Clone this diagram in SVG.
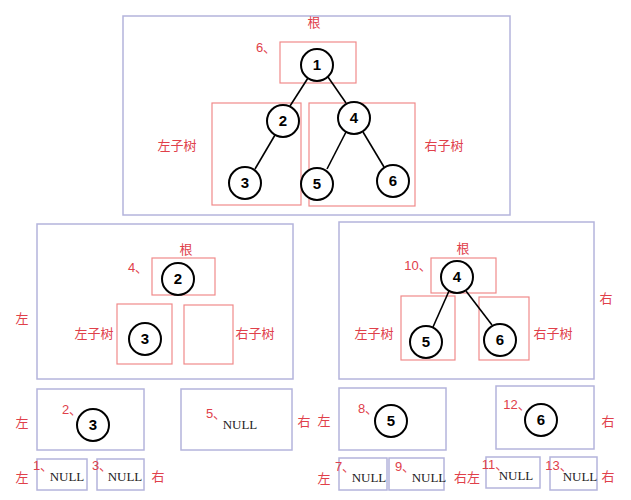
<svg xmlns="http://www.w3.org/2000/svg" width="631" height="500" viewBox="0 0 631 500">
<style>
.pb{fill:none;stroke:#b4b4dc;stroke-width:1.5}
.rb{fill:none;stroke:#f08a8a;stroke-width:1.2}
.n circle{fill:#fff;stroke:#000;stroke-width:2}
.n text{font-family:"Liberation Sans",sans-serif;font-weight:bold;font-size:15px;text-anchor:middle;fill:#000}
.l{font-family:"Liberation Sans","Noto Sans CJK SC",sans-serif;font-size:13px;fill:#e0404a;text-anchor:middle}
.nl{font-family:"Liberation Serif",serif;font-size:13px;fill:#222;text-anchor:middle}
.e{stroke:#000;stroke-width:1.6}
</style>
<rect width="631" height="500" fill="#fff"/>
<g id="frames">
<rect class="pb" x="123" y="16" width="387" height="199"/>
<rect class="rb" x="280" y="42" width="76" height="41"/>
<rect class="rb" x="212" y="103" width="89" height="102"/>
<rect class="rb" x="309" y="103" width="106" height="103"/>
<rect class="pb" x="37" y="224" width="256" height="155"/>
<rect class="rb" x="152" y="258" width="63" height="37"/>
<rect class="rb" x="117" y="304" width="55" height="60"/>
<rect class="rb" x="184" y="305" width="49" height="59"/>
<rect class="pb" x="339" y="222" width="255" height="157"/>
<rect class="rb" x="431" y="258" width="65" height="35"/>
<rect class="rb" x="401" y="296" width="54" height="64"/>
<rect class="rb" x="479" y="297" width="50" height="63"/>
<rect class="pb" x="37" y="389" width="107" height="61"/>
<rect class="pb" x="181" y="389" width="111" height="61"/>
<rect class="pb" x="339" y="388" width="107" height="62"/>
<rect class="pb" x="496" y="386" width="98" height="63"/>
<rect class="pb" x="37" y="459" width="50" height="31"/>
<rect class="pb" x="97" y="459" width="47" height="31"/>
<rect class="pb" x="339" y="458" width="48" height="32"/>
<rect class="pb" x="389" y="458" width="55" height="32"/>
<rect class="pb" x="486" y="457" width="54" height="31"/>
<rect class="pb" x="550" y="457" width="47" height="33"/>
</g>
<g id="connectors">
<line class="e" x1="308" y1="78" x2="290" y2="106"/>
<line class="e" x1="328" y1="77" x2="346" y2="103"/>
<line class="e" x1="275" y1="135" x2="255" y2="169"/>
<line class="e" x1="346" y1="132" x2="327" y2="169"/>
<line class="e" x1="363" y1="132" x2="384" y2="167"/>
<line class="e" x1="449" y1="291" x2="433" y2="327"/>
<line class="e" x1="466" y1="291" x2="492" y2="325"/>
</g>
<g id="n1" class="n"><circle cx="317" cy="65" r="16"/><text x="317" y="70">1</text></g>
<g id="n2" class="n"><circle cx="283" cy="121" r="16"/><text x="283" y="126">2</text></g>
<g id="n4" class="n"><circle cx="354" cy="118" r="16"/><text x="354" y="123">4</text></g>
<g id="n3" class="n"><circle cx="245" cy="183" r="16"/><text x="245" y="188">3</text></g>
<g id="n5" class="n"><circle cx="317" cy="184" r="16"/><text x="317" y="189">5</text></g>
<g id="n6" class="n"><circle cx="393" cy="181" r="16"/><text x="393" y="186">6</text></g>
<g id="m2" class="n"><circle cx="178" cy="279" r="16"/><text x="178" y="284">2</text></g>
<g id="m3" class="n"><circle cx="145" cy="339" r="16"/><text x="145" y="344">3</text></g>
<g id="m4" class="n"><circle cx="457" cy="277" r="16"/><text x="457" y="282">4</text></g>
<g id="m5" class="n"><circle cx="426" cy="342" r="16"/><text x="426" y="347">5</text></g>
<g id="m6" class="n"><circle cx="500" cy="340" r="16"/><text x="500" y="345">6</text></g>
<g id="b3" class="n"><circle cx="93" cy="425" r="16"/><text x="93" y="430">3</text></g>
<g id="b5" class="n"><circle cx="391" cy="421" r="16"/><text x="391" y="426">5</text></g>
<g id="b6" class="n"><circle cx="541" cy="420" r="16"/><text x="541" y="425">6</text></g>
<g id="labels">
<text class="l" x="314" y="27">根</text>
<text class="l" x="266" y="52">6、</text>
<text class="l" x="177" y="150">左子树</text>
<text class="l" x="444" y="150">右子树</text>
<text class="l" x="186" y="254">根</text>
<text class="l" x="138" y="272">4、</text>
<text class="l" x="94" y="338">左子树</text>
<text class="l" x="255" y="338">右子树</text>
<text class="l" x="22" y="323">左</text>
<text class="l" x="463" y="253">根</text>
<text class="l" x="418" y="270">10、</text>
<text class="l" x="374" y="338">左子树</text>
<text class="l" x="553" y="338">右子树</text>
<text class="l" x="606" y="303">右</text>
<text class="l" x="72" y="414">2、</text>
<text class="l" x="22" y="427">左</text>
<text class="l" x="216" y="418">5、</text>
<text class="nl" x="240" y="429">NULL</text>
<text class="l" x="304" y="426">右</text>
<text class="l" x="368" y="413">8、</text>
<text class="l" x="324" y="425">左</text>
<text class="l" x="517" y="409">12、</text>
<text class="l" x="608" y="426">右</text>
<text class="l" x="43" y="470">1、</text>
<text class="nl" x="67" y="481">NULL</text>
<text class="l" x="22" y="482">左</text>
<text class="l" x="102" y="470">3、</text>
<text class="nl" x="125" y="481">NULL</text>
<text class="l" x="158" y="481">右</text>
<text class="l" x="345" y="471">7、</text>
<text class="nl" x="369" y="482">NULL</text>
<text class="l" x="324" y="483">左</text>
<text class="l" x="405" y="471">9、</text>
<text class="nl" x="429" y="482">NULL</text>
<text class="l" x="467" y="482">右左</text>
<text class="l" x="495" y="469">11、</text>
<text class="nl" x="516" y="480">NULL</text>
<text class="l" x="559" y="470">13、</text>
<text class="nl" x="580" y="481">NULL</text>
<text class="l" x="608" y="481">右</text>
</g>
</svg>
